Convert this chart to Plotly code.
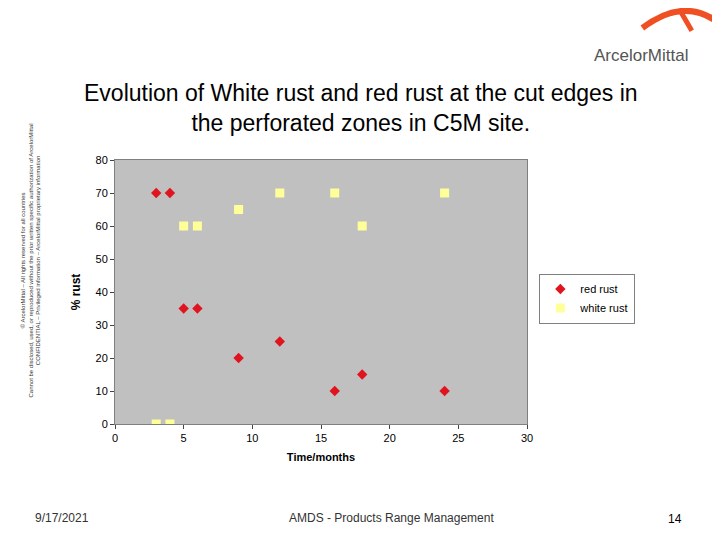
import plotly.graph_objects as go

# red rust / white rust observations
months = [3, 4, 5, 6, 9, 12, 16, 18, 24]
red_rust = [70, 70, 35, 35, 20, 25, 10, 15, 10]
white_rust = [0, 0, 60, 60, 65, 70, 70, 60, 70]

W, H = 720, 540
fig = go.Figure()
fig.add_trace(go.Scatter(x=months, y=red_rust, mode="markers", name="red rust",
                         marker=dict(symbol="diamond", size=8, color="#e0141e")))
fig.add_trace(go.Scatter(x=months, y=white_rust, mode="markers", name="white rust",
                         marker=dict(symbol="square", size=9, color="#ffff99")))

fig.update_layout(
    width=W, height=H,
    margin=dict(l=107, r=201, t=152, b=124),
    paper_bgcolor="white", plot_bgcolor="#c0c0c0",
    font=dict(family="Liberation Sans, Arial", color="black"),
    showlegend=True,
    legend=dict(x=1.03, y=0.57, xanchor="left", yanchor="top", bgcolor="white",
                bordercolor="#808080", borderwidth=1, font=dict(size=11),
                tracegroupgap=0, itemwidth=30),
)
fig.update_xaxes(range=[0, 30], dtick=5, showgrid=False, zeroline=False,
                 linecolor="#808080", mirror=True, ticks="outside", ticklen=4,
                 tickfont=dict(size=11),
                 title=dict(text="<b>Time/months</b>", font=dict(size=11), standoff=10))
fig.update_yaxes(range=[0, 80], dtick=10, showgrid=False, zeroline=False,
                 linecolor="#808080", mirror=True, ticks="outside", ticklen=4,
                 tickfont=dict(size=11),
                 title=dict(text="<b>% rust</b>", font=dict(size=12), standoff=12))

fig.add_annotation(xref="paper", yref="paper", x=0.597, y=1.082, xanchor="center", yanchor="bottom",
                   text="Evolution of White rust and red rust at the cut edges in<br>the perforated zones in C5M site.",
                   showarrow=False, font=dict(size=23, family="Liberation Sans, Arial"))

side = ("© ArcelorMittal – All rights reserved for all countries<br>"
        "Cannot be disclosed, used, or reproduced without the prior written specific authorization of ArcelorMittal<br>"
        "CONFIDENTIAL – Privileged information – ArcelorMittal proprietary information")
fig.add_annotation(xref="paper", yref="paper", x=-0.235, y=0.62, textangle=-90, showarrow=False,
                   text=side, font=dict(size=6, color="#333333"))
fig.add_annotation(xref="paper", yref="paper", x=-0.2, y=-0.39, showarrow=False,
                   text="9/17/2021", font=dict(size=12, color="#333333"))
fig.add_annotation(xref="paper", yref="paper", x=0.924, y=-0.39, showarrow=False,
                   text="AMDS - Products Range Management", font=dict(size=12, color="#333333"))
fig.add_annotation(xref="paper", yref="paper", x=1.38, y=-0.395, showarrow=False,
                   text="14", font=dict(size=12))
fig.add_annotation(xref="paper", yref="paper", x=1.396, y=1.44, showarrow=False,
                   text="ArcelorMittal", font=dict(size=17, color="#555555"))
# logo arc
fig.add_shape(type="path", xref="paper", yref="paper",
              path="M 1.28 1.50 Q 1.39 1.63 1.48 1.50", line=dict(color="#f04e23", width=6))
fig.add_shape(type="path", xref="paper", yref="paper",
              path="M 1.37 1.57 L 1.40 1.49", line=dict(color="#f04e23", width=5))

fig.write_html("out.html")
